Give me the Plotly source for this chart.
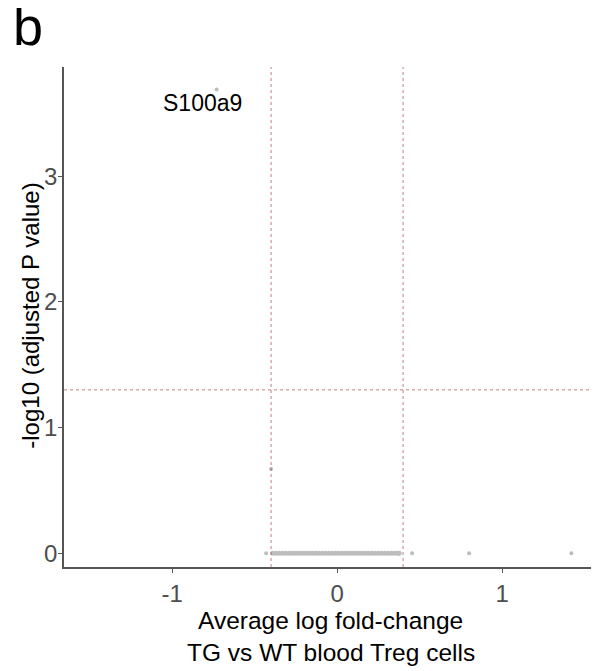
import plotly.graph_objects as go

# ---- data ----
gene_labels = ["S100a9"]
sig_x = [-0.73]
sig_y = [3.69]

other_x = [-0.43, -0.40, 0.455, 0.80, 1.42]
other_y = [0.0, 0.67, 0.0, 0.0, 0.0]

flat_x = [-0.39, -0.37, -0.35, -0.33, -0.31, -0.29, -0.27, -0.25, -0.23, -0.21,
          -0.19, -0.17, -0.15, -0.13, -0.11, -0.09, -0.07, -0.05, -0.03, -0.01,
          0.01, 0.03, 0.05, 0.07, 0.09, 0.11, 0.13, 0.15, 0.17, 0.19,
          0.21, 0.23, 0.25, 0.27, 0.29, 0.31, 0.33, 0.35, 0.37, 0.376]
flat_y = [0.0] * len(flat_x)

fc_cut = [-0.4, 0.4]
p_cut = 1.3

x_ticks = [-1, 0, 1]
y_ticks = [0, 1, 2, 3]

x_title = "Average log fold-change"
x_subtitle = "TG vs WT blood Treg cells"
y_title = "-log10 (adjusted P value)"
panel_label = "b"

pt_color = "#BDBDBD"
font_family = "Liberation Sans, Arial, sans-serif"

fig = go.Figure()
fig.add_trace(go.Scatter(x=flat_x, y=flat_y, mode="markers",
                         marker=dict(size=5, color=pt_color), showlegend=False))
fig.add_trace(go.Scatter(x=other_x, y=other_y, mode="markers",
                         marker=dict(size=4, color=pt_color), showlegend=False))
fig.add_trace(go.Scatter(x=sig_x, y=sig_y, mode="markers",
                         marker=dict(size=4, color=pt_color), showlegend=False))

for xc in fc_cut:
    fig.add_vline(x=xc, line=dict(color="rgba(170,90,90,0.75)", width=1, dash="dot"))
fig.add_hline(y=p_cut, line=dict(color="rgba(170,90,90,0.75)", width=1, dash="dot"))

for gx, gy, gl in zip(sig_x, sig_y, gene_labels):
    fig.add_annotation(x=gx - 0.085, y=gy - 0.11, text=gl, showarrow=False,
                       font=dict(size=23, color="black", family=font_family))

fig.add_annotation(text=panel_label, xref="paper", yref="paper", x=-0.1, y=1.082,
                   xanchor="left", yanchor="middle", showarrow=False,
                   font=dict(size=54, color="black", family=font_family))

fig.add_annotation(text=y_title, xref="paper", yref="paper", x=-0.064, y=0.503,
                   xanchor="center", yanchor="middle", textangle=-90, showarrow=False,
                   font=dict(size=24, color="black", family=font_family))
fig.add_annotation(text=x_title, xref="paper", yref="paper", x=0.505, y=-0.106,
                   xanchor="center", yanchor="middle", showarrow=False,
                   font=dict(size=24.5, color="black", family=font_family))
fig.add_annotation(text=x_subtitle, xref="paper", yref="paper", x=0.505, y=-0.17,
                   xanchor="center", yanchor="middle", showarrow=False,
                   font=dict(size=24.5, color="black", family=font_family))

fig.update_layout(
    width=591, height=663,
    margin=dict(l=56, r=7, t=59, b=104),
    plot_bgcolor="white", paper_bgcolor="white",
    font=dict(family=font_family),
    xaxis=dict(range=[-1.655, 1.545], tickvals=x_ticks, ticktext=[str(v) for v in x_ticks],
               showgrid=False, zeroline=False, showline=True, linecolor="#555555", linewidth=1.5,
               ticks="outside", ticklen=4, tickcolor="#555555", automargin=False,
               tickfont=dict(size=24, color="#4D4D4D")),
    yaxis=dict(range=[-0.11, 3.87], tickvals=y_ticks, ticktext=[str(v) for v in y_ticks],
               showgrid=False, zeroline=False, showline=True, linecolor="#555555", linewidth=1.5,
               ticks="outside", ticklen=4, tickcolor="#555555", automargin=False,
               ticklabelstandoff=-4,
               tickfont=dict(size=24, color="#4D4D4D")),
)

fig.write_html("out.html")
